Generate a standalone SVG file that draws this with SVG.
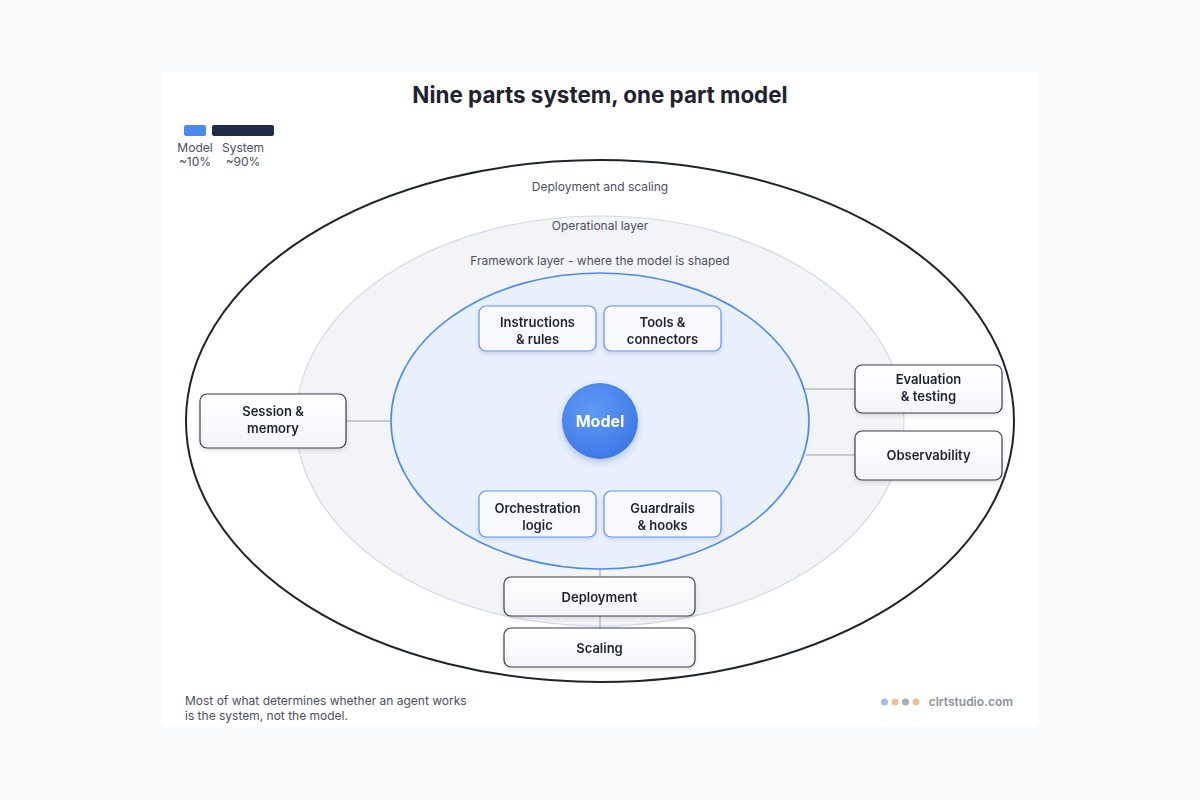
<svg xmlns="http://www.w3.org/2000/svg" width="1200" height="800" viewBox="0 0 1200 800">
<defs>
<style>
text{font-family:Inter,"Liberation Sans",sans-serif}
.layer{font-size:12px;fill:#4b5060;text-anchor:middle}
.lbl{font-size:13px;font-weight:600;fill:#1f2330;text-anchor:middle}
.card{fill:url(#cardg);stroke:#3a3f4c;stroke-width:1.2}
.icard{fill:#f7f9fe;stroke:#5b93f0;stroke-width:1.2}
.conn{stroke:#9aa0aa;stroke-width:1;fill:none}
.small{font-size:12px;fill:#4b5060}
</style>
<linearGradient id="cardg" x1="0" y1="0" x2="0" y2="1"><stop offset="0" stop-color="#ffffff"/><stop offset="1" stop-color="#f3f5f9"/></linearGradient>
<radialGradient id="modelg" cx="0.4" cy="0.35" r="0.7"><stop offset="0" stop-color="#5f9af5"/><stop offset="1" stop-color="#3d78e6"/></radialGradient>
<filter id="sh" x="-20%" y="-20%" width="140%" height="150%"><feDropShadow dx="0" dy="2" stdDeviation="2" flood-color="#000" flood-opacity="0.12"/></filter>
<filter id="msh" x="-30%" y="-30%" width="160%" height="160%"><feDropShadow dx="0" dy="3" stdDeviation="3" flood-color="#1a3a80" flood-opacity="0.25"/></filter>
</defs>
<rect width="1200" height="800" fill="#f8f9fb"/>
<rect x="161" y="72" width="878" height="655" fill="#ffffff"/>
<text x="600" y="103" text-anchor="middle" font-size="22.4" font-weight="700" fill="#1f2330">Nine parts system, one part model</text>
<g id="legend">
<rect x="184" y="125" width="22" height="11" rx="2" fill="#4a8af0"/>
<rect x="212" y="125" width="62" height="11" rx="2" fill="#212b48"/>
<text x="195" y="152" class="small" text-anchor="middle">Model</text>
<text x="195" y="166" class="small" text-anchor="middle">~10%</text>
<text x="243" y="152" class="small" text-anchor="middle">System</text>
<text x="243" y="166" class="small" text-anchor="middle">~90%</text>
</g>
<g id="layers">
<ellipse cx="600" cy="421" rx="414" ry="261" fill="#ffffff" stroke="#1f2330" stroke-width="2"/>
<ellipse cx="600" cy="421" rx="304" ry="205" fill="#f3f4f7" stroke="#d5d8e2" stroke-width="1.2"/>
<text x="600" y="191" class="layer">Deployment and scaling</text>
<text x="600" y="230" class="layer">Operational layer</text>
<text x="600" y="265" class="layer">Framework layer - where the model is shaped</text>
</g>
<g id="connectors">
<line class="conn" x1="346" y1="421" x2="392" y2="421"/>
<line class="conn" x1="804" y1="389" x2="855" y2="389"/>
<line class="conn" x1="806" y1="455" x2="855" y2="455"/>
<line class="conn" x1="600" y1="569" x2="600" y2="577"/>
<line class="conn" x1="600" y1="616" x2="600" y2="628"/>
</g>
<g id="framework">
<ellipse cx="600" cy="421" rx="209" ry="148" fill="#e8effd" stroke="#4a8af0" stroke-width="1.6"/>
</g>
<g id="model" filter="url(#msh)">
<circle cx="600" cy="421" r="38" fill="url(#modelg)"/>
<text x="600" y="427" text-anchor="middle" font-size="16" font-weight="700" fill="#ffffff">Model</text>
</g>
<g id="instructions" filter="url(#sh)">
<rect class="icard" x="479" y="306" width="117" height="45" rx="7"/>
<text class="lbl" x="537.5" y="327">Instructions</text>
<text class="lbl" x="537.5" y="344">&amp; rules</text>
</g>
<g id="tools" filter="url(#sh)">
<rect class="icard" x="604" y="306" width="117" height="45" rx="7"/>
<text class="lbl" x="662.5" y="327">Tools &amp;</text>
<text class="lbl" x="662.5" y="344">connectors</text>
</g>
<g id="orchestration" filter="url(#sh)">
<rect class="icard" x="479" y="491" width="117" height="46" rx="7"/>
<text class="lbl" x="537.5" y="513">Orchestration</text>
<text class="lbl" x="537.5" y="530">logic</text>
</g>
<g id="guardrails" filter="url(#sh)">
<rect class="icard" x="604" y="491" width="117" height="46" rx="7"/>
<text class="lbl" x="662.5" y="513">Guardrails</text>
<text class="lbl" x="662.5" y="530">&amp; hooks</text>
</g>
<g id="session" filter="url(#sh)">
<rect class="card" x="200" y="394" width="146" height="54" rx="7"/>
<text class="lbl" x="273" y="416">Session &amp;</text>
<text class="lbl" x="273" y="433">memory</text>
</g>
<g id="evaluation" filter="url(#sh)">
<rect class="card" x="855" y="365" width="147" height="48" rx="7"/>
<text class="lbl" x="928.5" y="384">Evaluation</text>
<text class="lbl" x="928.5" y="401">&amp; testing</text>
</g>
<g id="observability" filter="url(#sh)">
<rect class="card" x="855" y="431" width="147" height="49" rx="7"/>
<text class="lbl" x="928.5" y="460">Observability</text>
</g>
<g id="deployment" filter="url(#sh)">
<rect class="card" x="504" y="577" width="191" height="39" rx="7"/>
<text class="lbl" x="599.5" y="602">Deployment</text>
</g>
<g id="scaling" filter="url(#sh)">
<rect class="card" x="504" y="628" width="191" height="39" rx="7"/>
<text class="lbl" x="599.5" y="653">Scaling</text>
</g>
<g id="footer">
<text x="185" y="705" class="small">Most of what determines whether an agent works</text>
<text x="185" y="720" class="small">is the system, not the model.</text>
<circle cx="884.5" cy="702" r="3.5" fill="#9dbff3"/>
<circle cx="895" cy="702" r="3.5" fill="#f3bf8f"/>
<circle cx="905.5" cy="702" r="3.5" fill="#a9adb5"/>
<circle cx="916" cy="702" r="3.5" fill="#f3bf8f"/>
<text x="1013" y="706" text-anchor="end" font-size="12" font-weight="600" fill="#8d929c">clrtstudio.com</text>
</g>
</svg>
